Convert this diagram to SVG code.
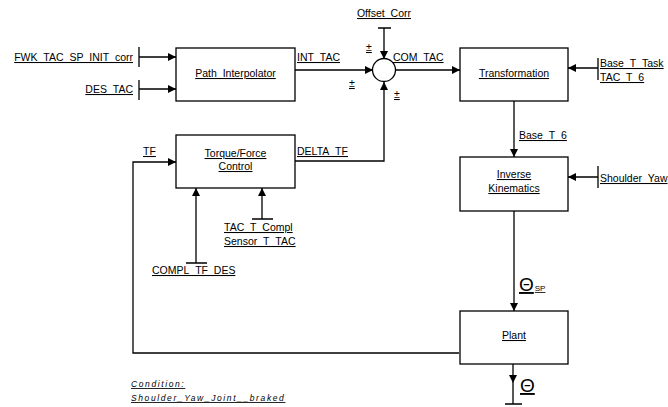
<svg xmlns="http://www.w3.org/2000/svg" width="668" height="407" viewBox="0 0 668 407">
<style>
text{font-family:"Liberation Sans",Arial,sans-serif;font-size:10.5px;fill:#000;text-decoration:underline}
.box{fill:#fff;stroke:#000;stroke-width:1.3}
.ln{fill:none;stroke:#000;stroke-width:1.3}
.m{text-anchor:middle}
.cond{font-size:8.5px;font-style:italic;letter-spacing:1.6px}
.th{font-size:19px}
.sub{font-size:8px}
</style>
<defs>
<marker id="ah" viewBox="0 0 10 10" refX="10" refY="5" markerWidth="8" markerHeight="8" markerUnits="userSpaceOnUse" orient="auto">
<path d="M0,0 L10,5 L0,10 z" fill="#000"/>
</marker>
</defs>
<rect width="668" height="407" fill="#fff"/>
<g id="connectors">
<path class="ln" d="M139,47 V67 M139,57 H176" marker-end="url(#ah)"/>
<path class="ln" d="M139,80 V100 M139,89 H176" marker-end="url(#ah)"/>
<path class="ln" d="M295,70 H373" marker-end="url(#ah)"/>
<path class="ln" d="M378,28 H391 M384,28 V59" marker-end="url(#ah)"/>
<path class="ln" d="M295,161 H384 V82" marker-end="url(#ah)"/>
<path class="ln" d="M396,70 H460" marker-end="url(#ah)"/>
<path class="ln" d="M598,58 V80 M598,68 H568" marker-end="url(#ah)"/>
<path class="ln" d="M514,101 V157" marker-end="url(#ah)"/>
<path class="ln" d="M598,166 V188 M598,177 H568" marker-end="url(#ah)"/>
<path class="ln" d="M514,211 V311" marker-end="url(#ah)"/>
<path class="ln" d="M459,353 H133 V162 H176" marker-end="url(#ah)"/>
<path class="ln" d="M186,263 H207 M196,263 V188" marker-end="url(#ah)"/>
<path class="ln" d="M252,219 H273 M262,219 V188" marker-end="url(#ah)"/>
<path class="ln" d="M513,364 V383" marker-end="url(#ah)"/>
<path class="ln" d="M513,383 V404 M505,404 H522"/>
</g>
<g id="sum"><circle cx="384" cy="70" r="11.5" fill="#fff" stroke="#000" stroke-width="1.3"/></g>
<g id="path_interpolator"><rect class="box" x="176" y="48" width="119" height="53"/><text class="m" x="235.5" y="77">Path_Interpolator</text></g>
<g id="torque_force"><rect class="box" x="176" y="135" width="119" height="53"/><text class="m" x="235.5" y="157">Torque/Force</text><text class="m" x="235.5" y="170">Control</text></g>
<g id="transformation"><rect class="box" x="460" y="48" width="108" height="53"/><text class="m" x="514" y="77">Transformation</text></g>
<g id="inverse_kinematics"><rect class="box" x="460" y="157" width="108" height="54"/><text class="m" x="514" y="178">Inverse</text><text class="m" x="514" y="192">Kinematics</text></g>
<g id="plant"><rect class="box" x="460" y="311" width="108" height="53"/><text class="m" x="514" y="339">Plant</text></g>
<g id="labels">
<text x="133" y="61" text-anchor="end">FWK_TAC_SP_INIT_corr</text>
<text x="133" y="93" text-anchor="end">DES_TAC</text>
<text x="297" y="61">INT_TAC</text>
<text class="m" x="384" y="17">Offset_Corr</text>
<text x="393" y="61">COM_TAC</text>
<text x="297" y="155">DELTA_TF</text>
<text x="143" y="155">TF</text>
<text x="366" y="51">±</text>
<text x="349" y="87">±</text>
<text x="394" y="98">±</text>
<text x="600" y="67">Base_T_Task</text>
<text x="600" y="81">TAC_T_6</text>
<text x="519" y="139">Base_T_6</text>
<text x="600" y="182">Shoulder_Yaw</text>
<text x="224" y="231">TAC_T_Compl</text>
<text x="224" y="245">Sensor_T_TAC</text>
<text x="152" y="274">COMPL_TF_DES</text>
<text x="519" y="291"><tspan class="th">Θ</tspan><tspan class="sub" dx="1">SP</tspan></text>
<text class="th" x="520" y="392">Θ</text>
<text class="cond" x="131" y="387">Condition:</text>
<text class="cond" x="131" y="401">Shoulder_Yaw_Joint__braked</text>
</g>
</svg>
